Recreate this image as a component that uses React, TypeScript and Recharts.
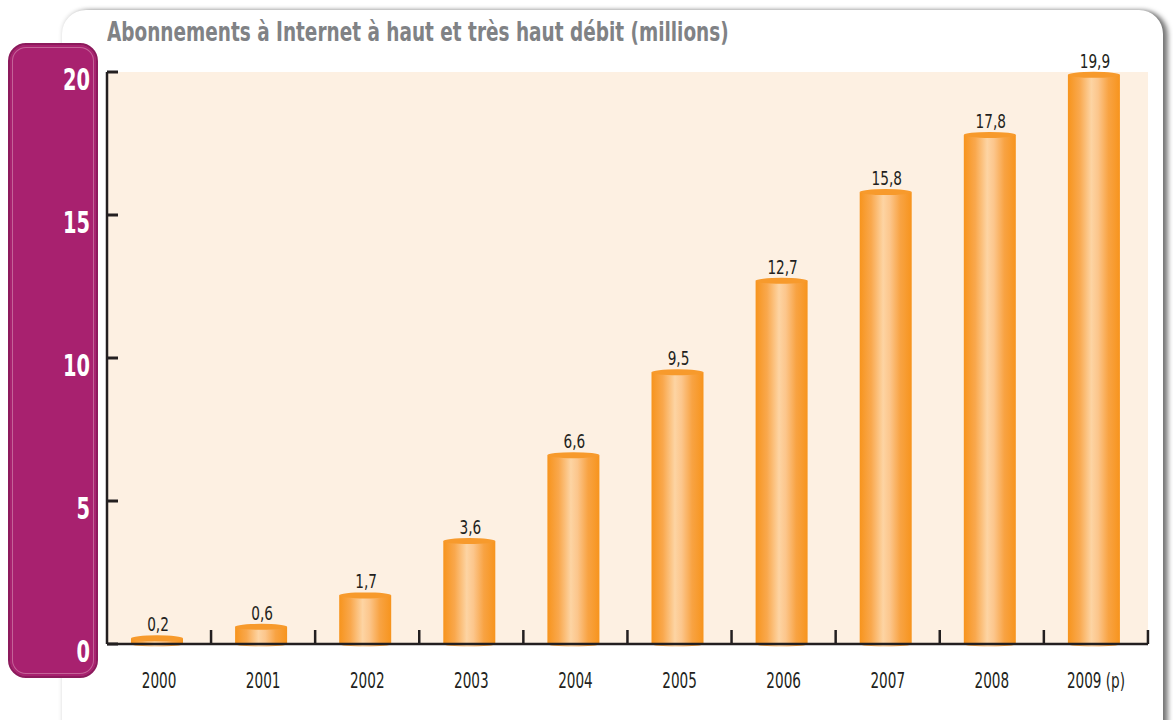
import { BarChart, Bar, XAxis, YAxis, CartesianGrid, LabelList } from "recharts";

const years = ["2000", "2001", "2002", "2003", "2004", "2005", "2006", "2007", "2008", "2009 (p)"];
const subscriptions = [0.2, 0.6, 1.7, 3.6, 6.6, 9.5, 12.7, 15.8, 17.8, 19.9];
const yTicks = [0, 5, 10, 15, 20];

const data = years.map((year, i) => ({ year, value: subscriptions[i] }));

const FONT = "'Liberation Sans Narrow', 'DejaVu Sans Condensed', 'Noto Sans', sans-serif";
const INK = "#231F20";

// narrow text: the original uses a condensed face, so squeeze horizontally
const Narrow = ({ x, y, sx, anchor, children, ...rest }: any) => (
  <text transform={`translate(${x},${y}) scale(${sx},1)`} textAnchor={anchor} fontFamily={FONT} {...rest}>
    {children}
  </text>
);

const Cylinder = (props: any) => {
  const { x, y, width, height } = props;
  const left = x - 2;
  const cx = left + width / 2;
  return (
    <g>
      <rect x={left} y={y} width={width} height={height} fill="url(#cyl)" />
      <ellipse cx={cx} cy={y + height} rx={width / 2} ry={2.5} fill="url(#cyl)" />
      <ellipse cx={cx} cy={y} rx={width / 2} ry={3} fill="#F79A2C" />
    </g>
  );
};

const YTick = (props: any) => {
  const { x, y, payload } = props;
  return (
    <g>
      <line x1={x} x2={x + 11} y1={y} y2={y} stroke={INK} strokeWidth={3} />
      <Narrow x={x - 17} y={y + 18} sx={0.72} anchor="end" fill="#fff" fontSize={30} fontWeight="bold">
        {payload.value}
      </Narrow>
    </g>
  );
};

const XTick = (props: any) => {
  const { x, y, payload } = props;
  return (
    <g>
      <line x1={x + 52} x2={x + 52} y1={y - 14} y2={y} stroke={INK} strokeWidth={2.5} />
      <Narrow x={x} y={y + 44} sx={0.72} anchor="middle" fill={INK} fontSize={21}>
        {payload.value}
      </Narrow>
    </g>
  );
};

const ValueLabel = (props: any) => {
  const { x, y, width, value } = props;
  return (
    <Narrow x={x - 1 + width / 2} y={y - 7} sx={0.76} anchor="middle" fill={INK} fontSize={20}>
      {String(value).replace(".", ",")}
    </Narrow>
  );
};

export default function App() {
  return (
    <div style={{ position: "absolute", left: 0, top: 0, width: 1173, height: 720, overflow: "hidden", background: "#fff" }}>
      <div
        style={{
          position: "absolute",
          left: 62,
          top: 10,
          width: 1101,
          height: 740,
          borderRadius: 24,
          background: "#fff",
          boxShadow: "5px 1px 5px rgba(0,0,0,0.5), 0 -1px 4px rgba(0,0,0,0.15)",
        }}
      />
      <div
        style={{
          position: "absolute",
          left: 8,
          top: 43,
          width: 86,
          height: 631,
          borderRadius: 18,
          background: "#A8216F",
          border: "2px solid #8C1A5C",
          boxShadow: "inset 0 0 0 2px #A8216F, inset 0 0 0 3px #C46398",
        }}
      />
      <div
        style={{
          position: "absolute",
          left: 107,
          top: 16,
          fontFamily: FONT,
          fontWeight: "bold",
          fontSize: 27,
          color: "#808285",
          whiteSpace: "nowrap",
          transform: "scaleX(0.76)",
          transformOrigin: "left top",
        }}
      >
        Abonnements à Internet à haut et très haut débit (millions)
      </div>
      <div style={{ position: "absolute", left: 0, top: 0 }}>
        <BarChart width={1173} height={720} data={data} margin={{ top: 72, right: 25, bottom: 0, left: 0 }} barCategoryGap={0}>
          <defs>
            <linearGradient id="cyl" x1="0" y1="0" x2="1" y2="0">
              <stop offset="0%" stopColor="#F7941D" />
              <stop offset="22%" stopColor="#F9A84D" />
              <stop offset="45%" stopColor="#FDD4A3" />
              <stop offset="58%" stopColor="#FCC68C" />
              <stop offset="78%" stopColor="#F8A343" />
              <stop offset="100%" stopColor="#F7941D" />
            </linearGradient>
          </defs>
          <CartesianGrid fill="#FDF0E2" horizontal={false} vertical={false} />
          <XAxis
            dataKey="year"
            height={76}
            axisLine={{ stroke: INK, strokeWidth: 2.5 }}
            tickLine={false}
            tickSize={0}
            tickMargin={0}
            interval={0}
            tick={<XTick />}
          />
          <YAxis
            width={107}
            domain={[0, 20]}
            ticks={yTicks}
            axisLine={{ stroke: INK, strokeWidth: 2.5 }}
            tickLine={false}
            tickSize={0}
            tickMargin={0}
            tick={<YTick />}
          />
          <Bar dataKey="value" barSize={52} shape={<Cylinder />} isAnimationActive={false}>
            <LabelList dataKey="value" content={<ValueLabel />} />
          </Bar>
        </BarChart>
      </div>
    </div>
  );
}
